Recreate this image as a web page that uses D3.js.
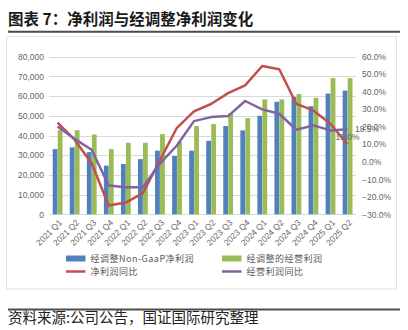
<!DOCTYPE html>
<html>
<head>
<meta charset="utf-8">
<script src="https://cdn.jsdelivr.net/npm/d3@7/dist/d3.min.js"></script>
<style>
  html, body { margin: 0; padding: 0; background: #fff; }
  svg { display: block; }
</style>
</head>
<body>
<svg id="chart" width="408" height="330"></svg>
<script>
// Quarterly categories
const categories = ["2021 Q1","2021 Q2","2021 Q3","2021 Q4","2022 Q1","2022 Q2","2022 Q3","2022 Q4",
  "2023 Q1","2023 Q2","2023 Q3","2023 Q4","2024 Q1","2024 Q2","2024 Q3","2024 Q4","2025 Q1","2025 Q2"];

// Adjusted Non-GAAP net profit (left axis)
const adjNetProfit = [33100, 34000, 31600, 24700, 25500, 28000, 32300, 29600, 32300, 37300,
  44800, 42600, 50000, 57100, 59600, 54900, 61300, 62800];

// Adjusted operating profit (left axis)
const adjOperatingProfit = [42700, 42700, 40500, 33100, 36300, 36300, 40700, 36800, 44800, 45800,
  51200, 48800, 58300, 58300, 61000, 59100, 69100, 69100];

// Net profit YoY, % (right axis)
const netProfitYoY = [22.3, 12.6, -0.8, -25.0, -23.3, -17.9, 0.8, 19.4, 28.8, 33.0,
  39.2, 43.6, 54.7, 52.8, 33.1, 29.3, 21.7, 10.0];

// Operating profit YoY, % (right axis)
const opProfitYoY = [20.2, 13.1, 6.9, -13.5, -14.5, -14.5, -1.1, 9.3, 23.2, 25.5,
  26.1, 34.7, 29.9, 27.4, 18.3, 20.8, 17.9, 18.5];

// Axis tick values
const leftTicks = [0, 10000, 20000, 30000, 40000, 50000, 60000, 70000, 80000];
const rightTicks = [-30, -20, -10, 0, 10, 20, 30, 40, 50, 60];

const C = { blue: "#4F81BD", green: "#9BBB59", red: "#C0504D", purple: "#8064A2",
  grid: "#d9d9d9", tick: "#666666" };
const numFont = "'Liberation Sans', Arial, sans-serif";
const cjkFont = "'Noto Sans CJK SC', sans-serif";

const svg = d3.select("#chart");
svg.append("rect").attr("width", 408).attr("height", 330).attr("fill", "#fff");

// Title and rules
svg.append("text").attr("x", 8).attr("y", 25)
  .attr("font-family", cjkFont).attr("font-size", 15.5).attr("font-weight", "bold")
  .attr("fill", "#1a1a1a").text("图表 7：净利润与经调整净利润变化");
svg.append("line").attr("x1", 8).attr("x2", 400).attr("y1", 31.7).attr("y2", 31.7)
  .attr("stroke", "#4d4d4d").attr("stroke-width", 2);

// Chart area frame
svg.append("rect").attr("x", 6.5).attr("y", 36.5).attr("width", 390).attr("height", 252.5)
  .attr("fill", "none").attr("stroke", "#e3e3e3").attr("stroke-width", 1);

svg.append("line").attr("x1", 8).attr("x2", 400).attr("y1", 309.5).attr("y2", 309.5)
  .attr("stroke", "#4d4d4d").attr("stroke-width", 2);
svg.append("text").attr("x", 8).attr("y", 323)
  .attr("font-family", cjkFont).attr("font-size", 14.5).attr("fill", "#222")
  .text("资料来源:公司公告，国证国际研究整理");

// Scales
const plot = { left: 49, right: 356, top: 56.7, bottom: 214.3 };
const x = d3.scaleBand().domain(categories).range([plot.left, plot.right]).paddingInner(0).paddingOuter(0);
const yL = d3.scaleLinear().domain([0, 80000]).range([plot.bottom, plot.top]);
const yR = d3.scaleLinear().domain([-30, 60]).range([plot.bottom, plot.top]);

// Gridlines
svg.append("g").selectAll("line").data(leftTicks).join("line")
  .attr("x1", plot.left).attr("x2", plot.right)
  .attr("y1", d => Math.round(yL(d)) + 0.5).attr("y2", d => Math.round(yL(d)) + 0.5)
  .attr("stroke", C.grid).attr("stroke-width", 1);

// Left axis labels
const axL = svg.append("g").attr("transform", `translate(${plot.left - 5},0)`)
  .call(d3.axisLeft(yL).tickValues(leftTicks).tickFormat(d3.format(",")).tickSize(0).tickPadding(0));
axL.select(".domain").remove();
axL.selectAll("text").attr("font-family", numFont).attr("font-size", 8.5).attr("fill", C.tick);

// Right axis labels
const axR = svg.append("g").attr("transform", `translate(${plot.right + 6},0)`)
  .call(d3.axisRight(yR).tickValues(rightTicks).tickFormat(d => d3.format(".1f")(d) + "%").tickSize(0).tickPadding(0));
axR.select(".domain").remove();
axR.selectAll("text").attr("font-family", numFont).attr("font-size", 8.5).attr("fill", C.tick);

// Bars
const barW = 4.8;
const bars = svg.append("g");
bars.selectAll("rect.net").data(categories).join("rect").attr("class", "net")
  .attr("x", (d) => x(d) + x.bandwidth() / 2 - barW)
  .attr("width", barW)
  .attr("y", (d, i) => yL(adjNetProfit[i]))
  .attr("height", (d, i) => yL(0) - yL(adjNetProfit[i]))
  .attr("fill", C.blue);
bars.selectAll("rect.op").data(categories).join("rect").attr("class", "op")
  .attr("x", (d) => x(d) + x.bandwidth() / 2 + 0.2)
  .attr("width", barW)
  .attr("y", (d, i) => yL(adjOperatingProfit[i]))
  .attr("height", (d, i) => yL(0) - yL(adjOperatingProfit[i]))
  .attr("fill", C.green);

// YoY lines
const cx = (i) => x(categories[i]) + x.bandwidth() / 2;
const line = d3.line().x((d, i) => cx(i)).y(d => yR(d));
svg.append("path").datum(netProfitYoY).attr("d", line)
  .attr("fill", "none").attr("stroke", C.red).attr("stroke-width", 2.5).attr("stroke-linejoin", "round");
svg.append("path").datum(opProfitYoY).attr("d", line)
  .attr("fill", "none").attr("stroke", C.purple).attr("stroke-width", 2.5).attr("stroke-linejoin", "round");

// Data labels on the last point of each YoY line
const last = categories.length - 1;
svg.append("text").attr("x", cx(last)).attr("y", yR(netProfitYoY[last]) - 4)
  .attr("text-anchor", "middle").attr("font-family", numFont).attr("font-size", 8.5).attr("fill", C.tick)
  .text(d3.format(".1f")(netProfitYoY[last]) + "%");
svg.append("text").attr("x", cx(last) + 7.5).attr("y", yR(opProfitYoY[last])).attr("dy", "0.3em")
  .attr("font-family", numFont).attr("font-size", 8.5).attr("fill", C.tick)
  .text(d3.format(".1f")(opProfitYoY[last]) + "%");

// X axis category labels (rotated)
svg.append("g").selectAll("text").data(categories).join("text")
  .attr("transform", (d, i) => `translate(${cx(i) + 3},${221}) rotate(-45)`)
  .attr("text-anchor", "end").attr("dy", "0.35em")
  .attr("font-family", numFont).attr("font-size", 8.5).attr("fill", C.tick)
  .text(d => d);

// Legend
const legend = [
  { label: "经调整Non-GaaP净利润", color: C.blue, type: "bar", x: 66, y: 258.5 },
  { label: "经调整的经营利润", color: C.green, type: "bar", x: 222, y: 258.5 },
  { label: "净利润同比", color: C.red, type: "line", x: 66, y: 271.5 },
  { label: "经营利润同比", color: C.purple, type: "line", x: 222, y: 271.5 }
];
const lg = svg.append("g").selectAll("g").data(legend).join("g")
  .attr("transform", d => `translate(${d.x},${d.y})`);
lg.filter(d => d.type === "bar").append("rect")
  .attr("x", 0).attr("y", -3).attr("width", 19.5).attr("height", 6).attr("fill", d => d.color);
lg.filter(d => d.type === "line").append("line")
  .attr("x1", 0).attr("x2", 19.5).attr("y1", 0).attr("y2", 0)
  .attr("stroke", d => d.color).attr("stroke-width", 2.5);
lg.append("text").attr("x", 24.5).attr("y", 0).attr("dy", "0.35em")
  .attr("font-family", cjkFont).attr("font-size", 9).attr("fill", "#595959")
  .attr("letter-spacing", 0.5)
  .text(d => d.label);
</script>
</body>
</html>
